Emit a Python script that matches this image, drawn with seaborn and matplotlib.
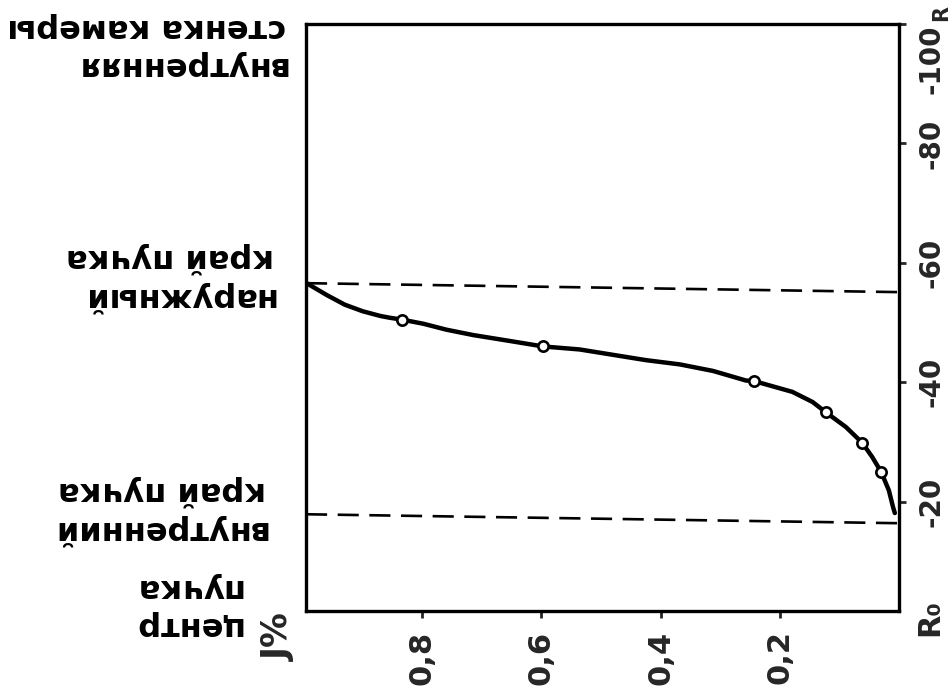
import matplotlib
matplotlib.use("Agg")
import matplotlib.pyplot as plt
import seaborn as sns
import pandas as pd

# Beam intensity profile across the chamber radius
curve_r = [0.994, 0.960, 0.930, 0.900, 0.870, 0.854, 0.834, 0.798, 0.759, 0.714, 0.658,
           0.597, 0.536, 0.480, 0.424, 0.368, 0.312, 0.257, 0.243, 0.179, 0.145,
           0.123, 0.089, 0.062, 0.045, 0.030, 0.017, 0.010, 0.007]
curve_j = [56.6, 54.6, 53.0, 51.9, 51.1, 50.8, 50.5, 49.8, 48.8, 47.9, 47.0,
           46.0, 45.5, 44.6, 43.7, 43.0, 41.9, 40.3, 40.2, 38.4, 36.7,
           35.0, 32.5, 29.9, 27.5, 25.0, 21.9, 19.1, 18.1]

# measured points (open circles)
point_r = [0.834, 0.597, 0.243, 0.123, 0.062, 0.030]
point_j = [50.5, 46.0, 40.2, 35.0, 29.9, 25.0]

# beam edges (dashed)
edge_r = [0.995, 0.0]
outer_edge_j = [56.6, 55.1]
inner_edge_j = [17.9, 16.4]

x_ticks = [0.8, 0.6, 0.4, 0.2]
x_tick_labels = ["0,8", "0,6", "0,4", "0,2"]
y_ticks = [20, 40, 60, 80, 100]
y_tick_labels = ["-20", "-40", "-60", "-80", "-100"]

sns.set_style("white")
plt.rcParams['font.family'] = ['DejaVu Sans']

W, H = 951, 689
fig = plt.figure(figsize=(W / 100, H / 100), dpi=100)
fig.patch.set_facecolor("white")


def fx(px):
    return px / W


def fy(py):
    return 1 - py / H


left, right, top, bottom = 306, 899, 24, 611
ax = fig.add_axes([fx(left), fy(bottom), fx(right) - fx(left), fy(top) - fy(bottom)])

curve = pd.DataFrame({"r": curve_r, "j": curve_j})
points = pd.DataFrame({"r": point_r, "j": point_j})

for ej in (outer_edge_j, inner_edge_j):
    ln, = ax.plot(edge_r, ej, color="black", lw=1.9, solid_capstyle="butt")
    ln.set_dashes((8, 4))

sns.lineplot(data=curve, x="r", y="j", ax=ax, color="black", lw=3.2,
             sort=False, estimator=None)
sns.scatterplot(data=points, x="r", y="j", ax=ax, s=55, marker="o",
                facecolor="white", edgecolor="black", linewidth=1.9, zorder=5)

ax.set_xlim(0.995, 0.0)
ax.set_ylim(1.7, 100)
ax.set_xlabel("")
ax.set_ylabel("")

for s in ax.spines.values():
    s.set_linewidth(2.4)
    s.set_color("black")

ax.set_xticks(x_ticks)
ax.set_xticklabels(x_tick_labels, rotation=90, fontsize=22, fontweight="bold")
ax.yaxis.tick_right()
ax.set_yticks(y_ticks)
ax.set_yticklabels(y_tick_labels, rotation=90, fontsize=20, fontweight="bold",
                   va="center")
ax.get_yticklabels()[-1].set_va("top")
ax.tick_params(axis="x", direction="out", length=5, width=2, pad=9, bottom=True)
ax.tick_params(axis="y", direction="out", length=5, width=2, pad=8, right=True,
               left=False)

txt = dict(rotation=180, fontsize=23, fontweight="bold", color="black",
           multialignment="left", linespacing=1.3)
fig.text(fx(286), fy(12), "внутренняя\nстенка камеры", ha="right", va="top", **txt)
fig.text(fx(274), fy(242), "наружны\u0439\nкра\u0439 пучка", ha="right", va="top", **txt)
fig.text(fx(266), fy(475), "внутренни\u0439\nкра\u0439 пучка", ha="right", va="top", **txt)
fig.text(fx(241), fy(572), "центр\nпучка", ha="right", va="top", **txt)

fig.text(fx(279), fy(637), "J%", rotation=90, fontsize=25, fontweight="bold",
         ha="center", va="center")
fig.text(fx(930), fy(618), "R₀", rotation=90, fontsize=22, fontweight="bold",
         ha="center", va="center")
fig.text(fx(941), fy(13), "R", rotation=90, fontsize=15, fontweight="bold",
         ha="center", va="center")

fig.savefig("out.png", dpi=100, facecolor="white")
